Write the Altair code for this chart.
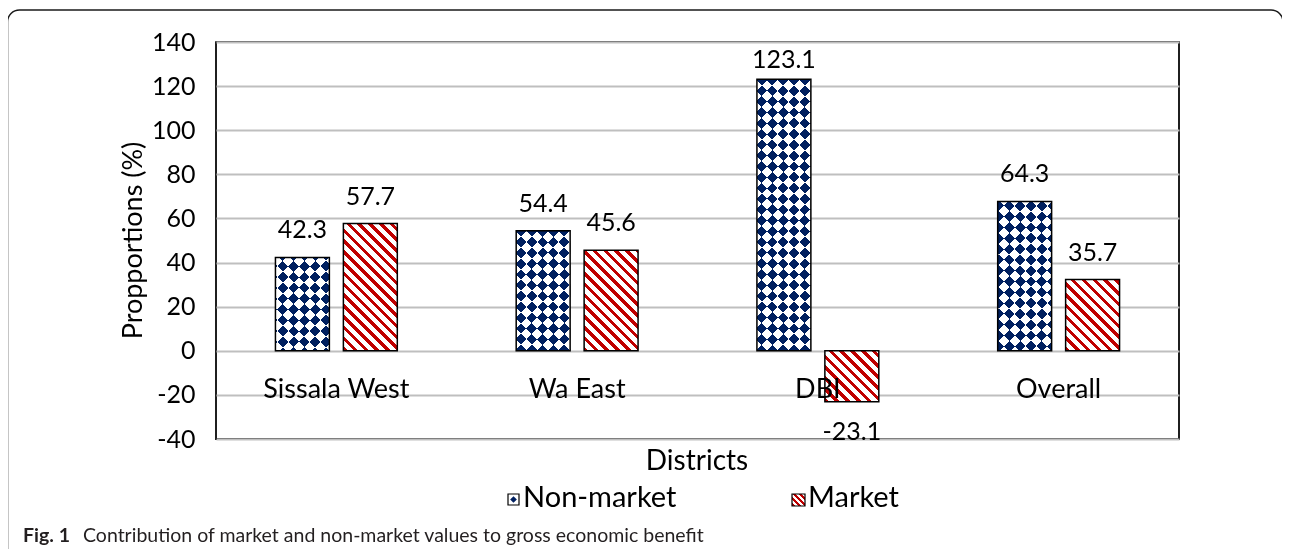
import altair as alt
import pandas as pd

# ---------------- data ----------------
districts = ["Sissala West", "Wa East", "DBI", "Overall"]
series = ["Non-market", "Market"]
non_market = [42.3, 54.4, 123.1, 67.7]          # bar heights as drawn
market = [57.7, 45.6, -23.1, 32.3]
non_market_labels = ["42.3", "54.4", "123.1", "64.3"]   # printed data labels
market_labels = ["57.7", "45.6", "-23.1", "35.7"]
y_ticks = [-40, -20, 0, 20, 40, 60, 80, 100, 120, 140]
y_domain = [-40, 140]
x_title = "Districts"
y_title = "Propportions (%)"
caption_bold = "Fig. 1"
caption_text = "Contribution of market and non-market values to gross economic benefit"

rows = []
for i, d in enumerate(districts):
    rows.append(dict(district=d, series="Non-market", value=non_market[i], label=non_market_labels[i]))
    rows.append(dict(district=d, series="Market", value=market[i], label=market_labels[i]))
df = pd.DataFrame(rows)

# ---------------- layout / style ----------------
PLOT_W, PLOT_H = 963, 397
PX = PLOT_H / (y_domain[1] - y_domain[0])
OFF_PI, OFF_PO = 0.206, 0.875
band = PLOT_W / len(districts)
step = band / (len(series) - OFF_PI + 2 * OFF_PO)
BAR_W = step * (1 - OFF_PI)
ZERO_Y = y_domain[1] * PX
LABEL_DY = 19
# labels are kept inside the plot area (as Excel does): baseline no higher than 26px below top
LABEL_CAP = y_domain[1] - (26 + LABEL_DY) / PX

NAVY = "#002060"
RED = "#C00000"
TILE = 10.8
FONT = "Lato"
GRID = "#BFBFBF"


def stripes(w, h, period, duty, c_on, c_off, direction):
    """Hard-stop linear gradient giving 45-degree stripes on a w x h box."""
    L = w + h
    k = L / (w * w + h * h)
    if direction == "down":   # "\" stripes
        x1, y1, x2, y2 = 0, 1, k * w, 1 - k * h
    else:                     # "/" stripes
        x1, y1, x2, y2 = 0, 0, k * w, k * h
    stops = []
    pos = 0.0
    while pos < L - 1e-9:
        on_end = min(pos + period * duty, L)
        stops += [(pos / L, c_on), (on_end / L, c_on)]
        if on_end < L:
            off_end = min(pos + period, L)
            stops += [(on_end / L, c_off), (off_end / L, c_off)]
        pos += period
    gs = [alt.GradientStop(offset=max(0.0, min(1.0, round(o, 6))), color=c) for o, c in stops]
    return alt.LinearGradient(gradient="linear", x1=x1, y1=y1, x2=x2, y2=y2, stops=gs)


x_enc = alt.X(
    "district:N",
    sort=districts,
    scale=alt.Scale(domain=districts, paddingInner=0, paddingOuter=0),
    axis=alt.Axis(
        title=None, orient="bottom", offset=-(PLOT_H - ZERO_Y), domain=False,
        ticks=False, labelPadding=46.3, labelBaseline="alphabetic", labelFont=FONT,
        labelFontSize=27, labelColor="black", labelAngle=0, grid=False, zindex=1,
        labelOverlap=False,
    ),
)
xoff_enc = alt.XOffset("series:N", sort=series,
                       scale=alt.Scale(domain=series, paddingInner=OFF_PI, paddingOuter=OFF_PO))
y_axis = alt.Axis(
    title=None, values=y_ticks, domain=False, ticks=False, labelPadding=21,
    labelFont=FONT, labelFontSize=25, labelColor="black", gridColor=GRID,
    gridWidth=2, labelOverlap=False, labelExpr="toString(datum.value)",
)
y_scale = alt.Scale(domain=y_domain, nice=False, zero=False)
y_enc = alt.Y("value:Q", scale=y_scale, axis=y_axis)
enc = dict(x=x_enc, xOffset=xoff_enc, y=y_enc)


def one_row(**kw):
    return alt.Chart(pd.DataFrame({k: [v] for k, v in kw.items()}))


layers = []

# outer rounded frame
layers.append(
    one_row(t=0).mark_rect(fillOpacity=0, stroke="#1A1A1A", strokeWidth=1.5, cornerRadius=12)
    .encode(x=alt.value(-208.5), x2=alt.value(1067), y=alt.value(-32), y2=alt.value(580))
)

# patterned bars
for i, d in enumerate(districts):
    for s, vals in (("Non-market", non_market), ("Market", market)):
        v = vals[i]
        h = abs(v) * PX
        base = alt.Chart(df).transform_filter((alt.datum.district == d) & (alt.datum.series == s))
        if s == "Market":
            g = stripes(BAR_W, h, TILE, 0.42, RED, "white", "down")
            layers.append(base.mark_bar(fill=g).encode(**enc))
        else:
            ga = stripes(BAR_W, h, 2 * TILE, 0.5, "black", "white", "up")
            gb = stripes(BAR_W, h, 2 * TILE, 0.5, "white", "rgba(255,255,255,0)", "down")
            layers.append(base.mark_bar(fill=ga).encode(**enc))
            layers.append(base.mark_bar(fill=gb, blend="difference").encode(**enc))
            layers.append(base.mark_bar(fill=NAVY, blend="lighten").encode(**enc))

# bar outlines
layers.append(alt.Chart(df).mark_bar(fillOpacity=0, stroke="black", strokeWidth=1.5).encode(**enc))

# data labels
layers.append(
    alt.Chart(df).transform_filter(alt.datum.value >= 0)
    .transform_calculate(ly=f"min(datum.value, {LABEL_CAP})")
    .mark_text(dy=-LABEL_DY, baseline="alphabetic", font=FONT, fontSize=25, color="black")
    .encode(x=x_enc, xOffset=xoff_enc, y=alt.Y("ly:Q", scale=y_scale, axis=y_axis), text="label:N")
)
layers.append(
    alt.Chart(df).transform_filter(alt.datum.value < 0)
    .mark_text(dy=38, baseline="alphabetic", font=FONT, fontSize=25, color="black")
    .encode(x=x_enc, xOffset=xoff_enc, y=y_enc, text="label:N")
)


def txt(s, x, y, size, weight="normal", align="left", angle=0, baseline="alphabetic", color="black"):
    return one_row(t=s).mark_text(
        font=FONT, fontSize=size, fontWeight=weight, align=align, baseline=baseline,
        angle=angle, color=color,
    ).encode(x=alt.value(x), y=alt.value(y), text="t:N")


# axis titles
layers.append(txt(y_title, -82, 198.5, 27, align="center", angle=270, baseline="middle"))
layers.append(txt(x_title, 481, 428, 28, align="center"))

# legend
layers.append(
    one_row(t=0).mark_rect(fill="white", stroke="black", strokeWidth=1.2)
    .encode(x=alt.value(292), x2=alt.value(303), y=alt.value(452), y2=alt.value(463))
)
layers.append(
    one_row(t=0).mark_point(shape="diamond", filled=True, color=NAVY, size=45, opacity=1)
    .encode(x=alt.value(297.5), y=alt.value(457.5))
)
layers.append(
    one_row(t=0).mark_rect(fill=stripes(13, 12, 6.0, 0.5, RED, "white", "down"),
                           stroke="black", strokeWidth=1.2)
    .encode(x=alt.value(576), x2=alt.value(589), y=alt.value(452), y2=alt.value(464))
)
layers.append(txt(series[0], 307, 465, 29))
layers.append(txt(series[1], 592, 465, 29))

# caption
layers.append(txt(caption_bold, -193, 500, 19.5, weight="bold", color="#231F20"))
layers.append(txt(caption_text, -133, 500, 19.5, color="#231F20"))

chart = (
    alt.layer(*layers)
    .properties(
        width=PLOT_W,
        height=PLOT_H,
        padding={"left": 208, "top": 34, "right": 103, "bottom": 110},
        autosize=alt.AutoSizeParams(type="none"),
        background="white",
    )
    .configure_view(stroke="black", strokeWidth=1.75)
)

chart.save("out.html", embed_options={"renderer": "svg", "actions": False})
